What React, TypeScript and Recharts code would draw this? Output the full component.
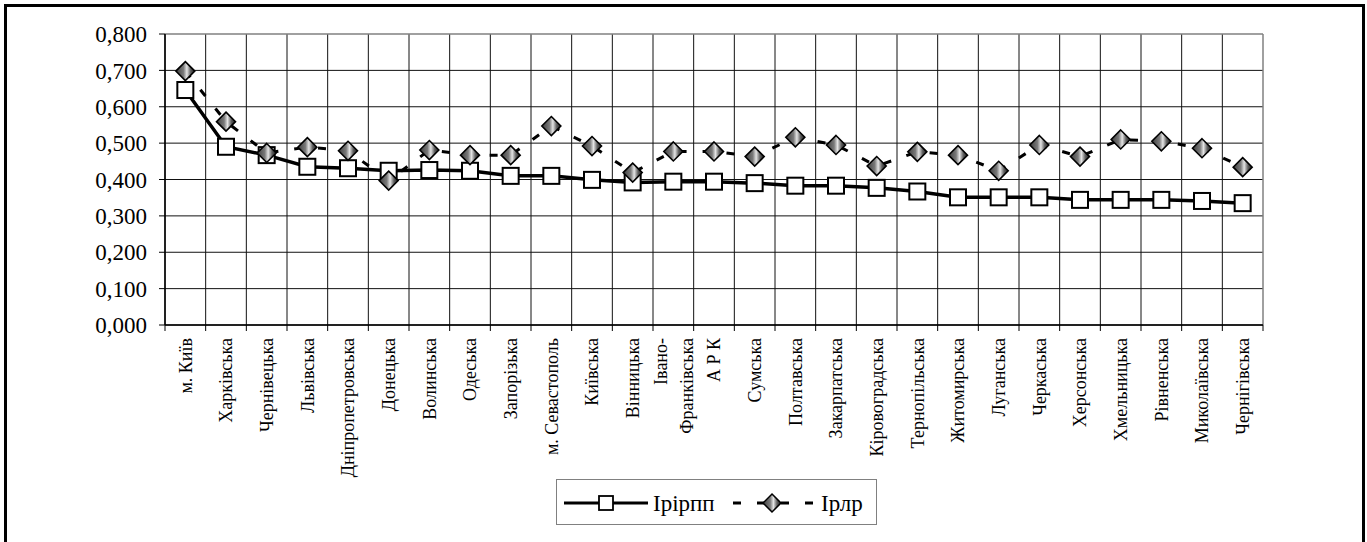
import { CartesianGrid, Line, LineChart, ReferenceLine, XAxis, YAxis } from "recharts"

const regions = [
  "м. Київ",
  "Харківська",
  "Чернівецька",
  "Львівська",
  "Дніпропетровська",
  "Донецька",
  "Волинська",
  "Одеська",
  "Запорізька",
  "м. Севастополь",
  "Київська",
  "Вінницька",
  "Івано-\nФранківська",
  "А Р К",
  "Сумська",
  "Полтавська",
  "Закарпатська",
  "Кіровоградська",
  "Тернопільська",
  "Житомирська",
  "Луганська",
  "Черкаська",
  "Херсонська",
  "Хмельницька",
  "Рівненська",
  "Миколаївська",
  "Чернігівська",
]

const irirpp = [
  0.646, 0.49, 0.467, 0.435, 0.431, 0.424, 0.426, 0.424, 0.41, 0.41, 0.399, 0.392, 0.394, 0.394,
  0.39, 0.383, 0.383, 0.377, 0.367, 0.351, 0.351, 0.351, 0.344, 0.344, 0.344, 0.341, 0.335,
]

const irlr = [
  0.698, 0.559, 0.473, 0.489, 0.479, 0.397, 0.481, 0.467, 0.467, 0.547, 0.492, 0.419, 0.477, 0.477,
  0.463, 0.516, 0.495, 0.437, 0.476, 0.467, 0.424, 0.495, 0.463, 0.51, 0.505, 0.486, 0.434,
]

const yTicks = [0, 0.1, 0.2, 0.3, 0.4, 0.5, 0.6, 0.7, 0.8]
const seriesNames = ["Ірірпп", "Ірлр"]

const FONT = "Liberation Serif, DejaVu Serif, serif"
const PLOT_LEFT = 165
const PLOT_RIGHT = 1263
// labels sit between the boundary ticks
const halfStep = (PLOT_RIGHT - PLOT_LEFT) / regions.length / 2

const data = regions.map((name, i) => ({
  pos: i + 0.5,
  name,
  irirpp: irirpp[i],
  irlr: irlr[i],
}))
const xTicks = regions.map((_, i) => i).concat(regions.length)
const yMax = yTicks[yTicks.length - 1]

function RegionTick(props: any) {
  const { x, y, payload } = props
  const i = payload.value as number
  if (i >= regions.length) return <g />
  const lines = regions[i].split("\n")
  const lineGap = 26
  const first = -((lines.length - 1) * lineGap) / 2
  return (
    <text
      transform={`translate(${x + halfStep},${y + 5}) rotate(-90)`}
      textAnchor="end"
      style={{ fontFamily: FONT, fontSize: 18 }}
      fill="#000"
    >
      {lines.map((ln, k) => (
        <tspan key={k} x={0} y={first + k * lineGap} dy="0.35em">
          {ln}
        </tspan>
      ))}
    </text>
  )
}

function SquareDot(props: any) {
  const { cx, cy, index } = props
  if (cx == null || cy == null) return <g key={index} />
  return (
    <rect key={index} x={cx - 8} y={cy - 8} width={16} height={16} fill="#fff" stroke="#000" strokeWidth={2} />
  )
}

function DiamondDot(props: any) {
  const { cx, cy, index } = props
  if (cx == null || cy == null) return <g key={index} />
  const r = 9.5
  return (
    <path
      key={index}
      d={`M${cx},${cy - r} L${cx + r},${cy} L${cx},${cy + r} L${cx - r},${cy} Z`}
      fill="url(#diamondFill)"
      stroke="#000"
      strokeWidth={1.6}
    />
  )
}

function GradientStops() {
  return (
    <>
      <stop offset="0%" stopColor="#3c3c3c" />
      <stop offset="40%" stopColor="#7a7a7a" />
      <stop offset="58%" stopColor="#e4e4e4" />
      <stop offset="78%" stopColor="#5e5e5e" />
      <stop offset="100%" stopColor="#1e1e1e" />
    </>
  )
}

function ChartLegend() {
  return (
    <svg width={322} height={47} style={{ position: "absolute", left: 556, top: 479 }}>
      <defs>
        <linearGradient id="legendDiamond" x1="0" y1="0" x2="1" y2="0">
          <GradientStops />
        </linearGradient>
      </defs>
      <rect x={0.5} y={0.5} width={320} height={45} fill="#fff" stroke="#808080" />
      <line x1={8} y1={24} x2={92} y2={24} stroke="#000" strokeWidth={3} />
      <rect x={43} y={17} width={14} height={14} fill="#fff" stroke="#000" strokeWidth={1.8} />
      <text x={97} y={24} dy="0.35em" style={{ fontFamily: FONT, fontSize: 23 }} fill="#000">
        {seriesNames[0]}
      </text>
      <line x1={177} y1={24} x2={257} y2={24} stroke="#000" strokeWidth={3} strokeDasharray="8 16" />
      <path d="M216,15 L225,24 L216,33 L207,24 Z" fill="url(#legendDiamond)" stroke="#000" strokeWidth={1.5} />
      <text x={265} y={24} dy="0.35em" style={{ fontFamily: FONT, fontSize: 23 }} fill="#000">
        {seriesNames[1]}
      </text>
    </svg>
  )
}

export default function App() {
  return (
    <div
      style={{
        position: "absolute",
        left: 0,
        top: 0,
        width: 1367,
        height: 542,
        overflow: "hidden",
        background: "#fff",
        fontFamily: FONT,
      }}
    >
      {/* frame runs past the bottom edge */}
      <div
        style={{
          position: "absolute",
          left: 4,
          top: 4,
          width: 1361,
          height: 560,
          boxSizing: "border-box",
          border: "3px solid #000",
        }}
      />
      <LineChart
        width={1367}
        height={542}
        data={data}
        margin={{ top: 34, right: 104, bottom: 117, left: 15 }}
        style={{ position: "absolute", left: 0, top: 0 }}
      >
        <defs>
          <linearGradient id="diamondFill" x1="0" y1="0" x2="1" y2="0">
            <GradientStops />
          </linearGradient>
        </defs>
        <CartesianGrid
          stroke="#111"
          strokeWidth={1}
          horizontalValues={yTicks.slice(0, -1)}
          verticalValues={xTicks.slice(0, -1)}
        />
        {/* plot-area border on top and right is grey */}
        <ReferenceLine y={yMax} stroke="#808080" strokeWidth={1.5} />
        <ReferenceLine x={regions.length} stroke="#808080" strokeWidth={1.5} />
        <XAxis
          dataKey="pos"
          type="number"
          domain={[0, regions.length]}
          ticks={xTicks}
          interval={0}
          height={100}
          tick={<RegionTick />}
          tickSize={6}
          tickMargin={2}
          axisLine={{ stroke: "#000", strokeWidth: 1.5 }}
          tickLine={{ stroke: "#000" }}
        />
        <YAxis
          width={150}
          domain={[0, yMax]}
          ticks={yTicks}
          interval={0}
          tickSize={6}
          tickMargin={12}
          tickFormatter={(v: number) => v.toFixed(3).replace(".", ",")}
          tick={{ fontSize: 23, fontFamily: FONT, fill: "#000", style: { fontFamily: FONT } }}
          axisLine={{ stroke: "#000", strokeWidth: 1.5 }}
          tickLine={{ stroke: "#000" }}
        />
        <Line
          dataKey="irirpp"
          name={seriesNames[0]}
          type="linear"
          stroke="#000"
          strokeWidth={3.5}
          dot={SquareDot}
          activeDot={false}
          isAnimationActive={false}
        />
        <Line
          dataKey="irlr"
          name={seriesNames[1]}
          type="linear"
          stroke="#000"
          strokeWidth={3}
          strokeDasharray="8 16"
          dot={DiamondDot}
          activeDot={false}
          isAnimationActive={false}
        />
      </LineChart>
      <ChartLegend />
    </div>
  )
}
